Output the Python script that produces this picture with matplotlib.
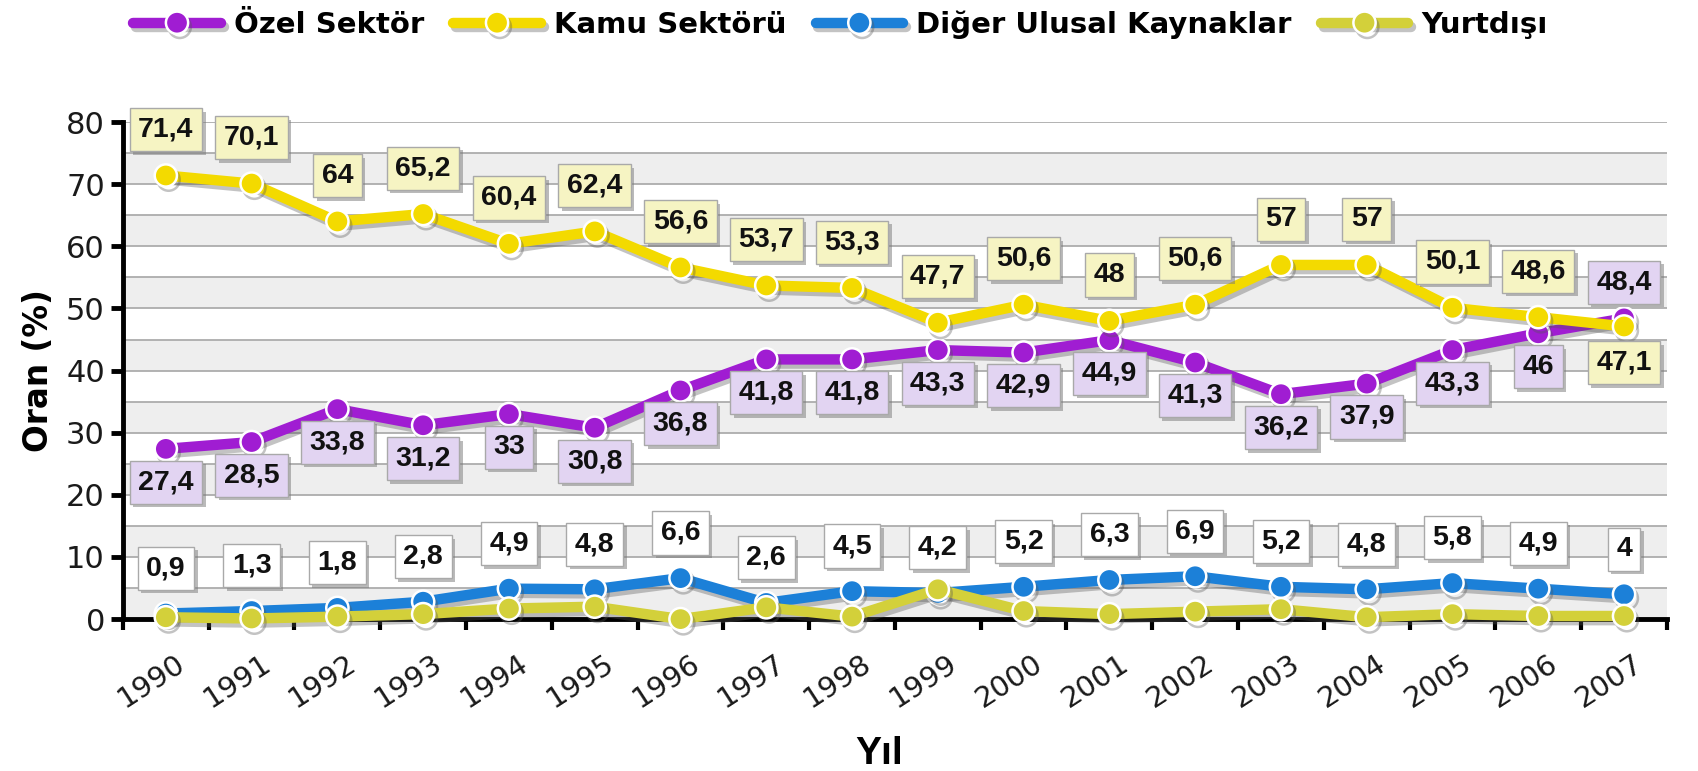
import numpy as np
import matplotlib
matplotlib.use("Agg")
import matplotlib.pyplot as plt
import matplotlib.patheffects as pe
from matplotlib.lines import Line2D
from matplotlib.ticker import MultipleLocator, FixedLocator
from matplotlib.transforms import ScaledTranslation

years = ["1990", "1991", "1992", "1993", "1994", "1995", "1996", "1997", "1998",
         "1999", "2000", "2001", "2002", "2003", "2004", "2005", "2006", "2007"]
ozel = [27.4, 28.5, 33.8, 31.2, 33, 30.8, 36.8, 41.8, 41.8,
        43.3, 42.9, 44.9, 41.3, 36.2, 37.9, 43.3, 46, 48.4]
kamu = [71.4, 70.1, 64, 65.2, 60.4, 62.4, 56.6, 53.7, 53.3,
        47.7, 50.6, 48, 50.6, 57, 57, 50.1, 48.6, 47.1]
diger = [0.9, 1.3, 1.8, 2.8, 4.9, 4.8, 6.6, 2.6, 4.5,
         4.2, 5.2, 6.3, 6.9, 5.2, 4.8, 5.8, 4.9, 4]
yurtdisi = [0.3, 0.1, 0.4, 0.8, 1.7, 2.0, 0.0, 1.9, 0.4,
            4.8, 1.3, 0.8, 1.2, 1.6, 0.3, 0.8, 0.5, 0.5]

names = ["Özel Sektör", "Kamu Sektörü", "Diğer Ulusal Kaynaklar", "Yurtdışı"]
colors = ["#a01dd2", "#f3da00", "#1c80d8", "#d3d03a"]

x = np.arange(len(years))

fig = plt.figure(figsize=(16.98, 7.71), dpi=100)
ax = fig.add_axes([0.0724, 0.197, 0.9093, 0.6447])

# background bands and grid
for y0 in range(0, 80, 10):
    ax.axhspan(y0, y0 + 5, color="#eeeeee", zorder=0, lw=0)
for y0 in range(5, 85, 5):
    ax.axhline(y0, color="#a6a6a6", lw=1.2, zorder=1)

line_fx = [pe.SimpleLineShadow(offset=(2, -3), shadow_color="#555555", alpha=0.35),
           pe.Normal()]

series = [ozel, kamu, diger, yurtdisi]
for i, (vals, c) in enumerate(zip(series, colors)):
    ax.plot(x, vals, color=c, lw=7.5, marker="o", ms=16, mfc=c, mec="white",
            mew=1.8, solid_joinstyle="round", solid_capstyle="round",
            zorder=3 + i, clip_on=False, path_effects=line_fx)


def fmt(v):
    return f"{v:g}".replace(".", ",")


def label(xi, v, dy, face):
    t = ax.annotate(fmt(v), (xi, v), xytext=(0, dy), textcoords="offset points",
                    ha="center", va="center", fontsize=20.5, fontweight="bold",
                    family="Liberation Sans", color="#111111", zorder=20,
                    annotation_clip=False,
                    bbox=dict(boxstyle="square,pad=0.3", fc=face, ec="#a9a9a9", lw=1))
    t.get_bbox_patch().set_path_effects(
        [pe.withSimplePatchShadow(offset=(2.5, -2.5), shadow_rgbFace="#777777", alpha=0.5)])


for i in range(len(years)):
    last = i == len(years) - 1
    label(x[i], kamu[i], -26 if last else 33, "#f6f4c3")
    label(x[i], ozel[i], 26 if last else -24, "#e2d4f2")
    label(x[i], diger[i], 32.5, "white")

# axes styling
ax.set_xlim(-0.5, len(years) - 0.5)
ax.set_ylim(0, 80)
for s in ["top", "right"]:
    ax.spines[s].set_visible(False)
ax.spines["left"].set_linewidth(3.5)
ax.spines["bottom"].set_linewidth(3.5)
ax.spines["bottom"].set_zorder(2)

ax.yaxis.set_major_locator(MultipleLocator(10))
ax.tick_params(axis="y", which="major", length=9, width=3.5, labelsize=22,
               pad=4, labelcolor="#1a1a1a")

ax.set_xticks(x)
ax.set_xticklabels(years, rotation=33, ha="right", va="center",
                   rotation_mode="anchor", fontsize=21, color="#1a1a1a")
ax.xaxis.set_minor_locator(FixedLocator(np.arange(-0.5, len(years), 1.0)))
ax.tick_params(axis="x", which="major", length=0, pad=30)
ax.tick_params(axis="x", which="minor", length=8, width=3)
shift = ScaledTranslation(12 / 72, 0, fig.dpi_scale_trans)
for lbl in ax.get_xticklabels():
    lbl.set_transform(lbl.get_transform() + shift)

ax.set_ylabel("Oran (%)", fontsize=23.5, fontweight="bold", family="DejaVu Sans",
              labelpad=8)
ax.set_xlabel("Yıl", fontsize=28, fontweight="bold", family="Liberation Sans",
              labelpad=16)
ax.xaxis.set_label_coords(0.49, -0.235)

handles = [Line2D([], [], color=c, lw=7.5, marker="o", ms=16, mfc=c, mec="white",
                  mew=1.8, solid_capstyle="round", path_effects=line_fx)
           for c in colors]
fig.legend(handles, names, loc="center", bbox_to_anchor=(0.495, 0.968), ncol=4,
           frameon=False, handlelength=3.0, handletextpad=0.45, columnspacing=1.0,
           prop=dict(family="DejaVu Sans", weight="bold", size=21))

fig.savefig("out.png", dpi=100, facecolor="white")
